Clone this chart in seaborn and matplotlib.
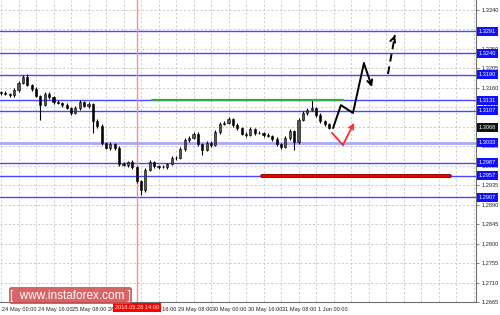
import numpy as np
import pandas as pd
import matplotlib
matplotlib.use("Agg")
import matplotlib.pyplot as plt
import matplotlib.transforms as mtrans
from matplotlib.patches import FancyBboxPatch
import seaborn as sns

# ---------------- data ----------------
first_open = 1.3150
closes = [1.3148, 1.3146, 1.3143, 1.3155, 1.3171, 1.3185, 1.3167, 1.3157, 1.3141, 1.3120,
          1.3146, 1.3139, 1.3127, 1.3125, 1.3120, 1.3113, 1.3102, 1.3113, 1.3127, 1.3118,
          1.3123, 1.3083, 1.3072, 1.3033, 1.3021, 1.3030, 1.3021, 1.2984, 1.2982, 1.2989,
          1.2977, 1.2945, 1.2924, 1.2970, 1.2989, 1.2979, 1.2977, 1.2977, 1.2984, 1.2998,
          1.2998, 1.3019, 1.3039, 1.3044, 1.3053, 1.3030, 1.3016, 1.3033, 1.3028, 1.3058,
          1.3076, 1.3079, 1.3088, 1.3074, 1.3067, 1.3053, 1.3051, 1.3065, 1.3056, 1.3056,
          1.3051, 1.3049, 1.3042, 1.3030, 1.3023, 1.3044, 1.3060, 1.3035, 1.3086, 1.3102,
          1.3109, 1.3113, 1.3097, 1.3083, 1.3076, 1.3068]
wick_up_pips = [3, 4, 3, 5, 4, 5, 6, 3, 4, 3,
                4, 5, 3, 4, 3, 4, 3, 5, 4, 3,
                4, 3, 4, 5, 3, 6, 3, 4, 5, 3,
                4, 3, 3, 4, 5, 3, 3, 4, 3, 5,
                4, 4, 5, 4, 5, 4, 3, 4, 5, 4,
                4, 5, 4, 3, 4, 3, 5, 4, 3, 4,
                3, 4, 3, 4, 3, 5, 4, 3, 4, 5,
                4, 19, 3, 4, 3, 3]
wick_dn_pips = [4, 3, 4, 3, 4, 3, 3, 4, 3, 34,
                3, 4, 5, 3, 4, 3, 4, 3, 4, 3,
                4, 27, 5, 4, 3, 4, 5, 4, 3, 4,
                5, 4, 12, 4, 3, 4, 5, 3, 4, 3,
                4, 3, 4, 5, 3, 4, 11, 3, 4, 3,
                4, 3, 3, 4, 5, 3, 4, 3, 4, 3,
                4, 3, 5, 4, 4, 3, 4, 19, 4, 3,
                4, 3, 4, 5, 4, 3]
candle_hours = 2  # each candle = 2 hours

levels = [1.3291, 1.3240, 1.3190, 1.3131, 1.3107, 1.2987, 1.2957, 1.2907]
light_level = 1.3033
current_price = 1.3068

ytick_values = [1.2665, 1.2710, 1.2755, 1.2800, 1.2845, 1.2890, 1.2935, 1.2980,
                1.3025, 1.3070, 1.3115, 1.3160, 1.3205, 1.3250, 1.3295, 1.3340]
xtick_hours = [0, 16, 32, 48, 64, 80, 96, 112, 128, 144]
xtick_labels = ["24 May 00:00", "24 May 16:00", "25 May 08:00", "28 May 00:00",
                "28 May 16:00", "29 May 08:00", "30 May 00:00", "30 May 16:00",
                "31 May 08:00", "1 Jun 00:00"]

vline_hour = 62
vline_label = "2018.05.28 14:00"

green_seg_h = [69, 156.3]
green_seg_p = 1.3131
red_seg_h = [119.3, 205.3]
red_seg_p = 1.2957

black_path_h = [151.8, 155.4, 160.9, 165.9, 169.6]
black_path_p = [1.3067, 1.3120, 1.3102, 1.3217, 1.3162]
dashed_path_h = [176.9, 180.1]
dashed_path_p = [1.3192, 1.3282]
red_path_h = [151.3, 156.3, 161.4]
red_path_p = [1.3056, 1.3028, 1.3079]

# ---------------- figure ----------------
sns.set_style("white")
plt.rcParams['font.family'] = ['Liberation Sans', 'DejaVu Sans']

W, H = 500, 315
fig = plt.figure(figsize=(W / 100, H / 100), dpi=100)
ax = fig.add_axes([0, 13 / H, 476 / W, 302 / H])

px_per_h = 2.1875
x0 = -1 / px_per_h
x1 = (476 - 1) / px_per_h
ax.set_xlim(x0, x1)
ax.set_ylim(1.2665, 1.33631)

# grid
ax.set_yticks(ytick_values)
ax.set_xticks(xtick_hours)
ax.grid(False)
for yv in ytick_values:
    ax.axhline(yv, color='#c4c4c4', lw=0.6, ls=(0, (2.5, 2.5)), zorder=0)
for xv in np.arange(0, 217, 8):
    ax.axvline(xv, color='#c4c4c4', lw=0.6, ls=(0, (2.5, 2.5)), zorder=0)

# level lines
for lv in levels:
    ax.axhline(lv, color='#4848ff', lw=1.0, zorder=1)
ax.axhline(light_level, color='#a8a8ff', lw=2.0, zorder=1)

# vertical red line
ax.axvline(vline_hour, color='#ff8c8c', lw=1.0, zorder=1)

# candles
df = pd.DataFrame({'close': closes})
df['open'] = [first_open] + closes[:-1]
df['h'] = np.arange(len(df)) * candle_hours
df['high'] = df[['open', 'close']].max(axis=1) + np.array(wick_up_pips) * 1e-4
df['low'] = df[['open', 'close']].min(axis=1) - np.array(wick_dn_pips) * 1e-4
ax.vlines(df['h'], df['low'], df['high'], color='black', lw=0.8, zorder=3)
body_h = (df['close'] - df['open']).abs().clip(lower=0.00008)
body_b = df[['open', 'close']].min(axis=1)
bull = df['close'] >= df['open']
ax.bar(df['h'][bull], body_h[bull], bottom=body_b[bull], width=1.0,
       color='#555555', edgecolor='black', lw=0.4, zorder=4)
ax.bar(df['h'][~bull], body_h[~bull], bottom=body_b[~bull], width=1.0,
       color='black', edgecolor='black', lw=0.4, zorder=4)

# green and red segments
sns.lineplot(x=green_seg_h, y=[green_seg_p] * 2, ax=ax, color='#34a84a', lw=1.6, zorder=5)
sns.lineplot(x=red_seg_h, y=[red_seg_p] * 2, ax=ax, color='#8b0000', lw=2.8, zorder=5)
sns.lineplot(x=red_seg_h, y=[red_seg_p] * 2, ax=ax, color='#ee0000', lw=1.6, zorder=5)

# black forecast path
sns.lineplot(x=black_path_h[:-1], y=black_path_p[:-1], ax=ax, sort=False,
             color='black', lw=1.4, zorder=6)
ax.annotate('', xy=(black_path_h[-1], black_path_p[-1]),
            xytext=(black_path_h[-2], black_path_p[-2]),
            arrowprops=dict(arrowstyle='->', color='black', lw=1.4,
                            mutation_scale=9, shrinkA=0, shrinkB=0), zorder=6)
# dashed
sns.lineplot(x=dashed_path_h, y=dashed_path_p, ax=ax, sort=False,
             color='black', lw=1.4, ls=(0, (4, 2.5)), zorder=6)
ax.annotate('', xy=(dashed_path_h[-1], dashed_path_p[-1]),
            xytext=(dashed_path_h[-1] - 0.6, dashed_path_p[-1] - 0.0009),
            arrowprops=dict(arrowstyle='->', color='black', lw=1.4,
                            mutation_scale=9, shrinkA=0, shrinkB=0), zorder=6)
# red path
sns.lineplot(x=red_path_h[:-1], y=red_path_p[:-1], ax=ax, sort=False,
             color='#ff2a2a', lw=1.3, zorder=6)
ax.annotate('', xy=(red_path_h[-1], red_path_p[-1]),
            xytext=(red_path_h[-2], red_path_p[-2]),
            arrowprops=dict(arrowstyle='->', color='#ff2a2a', lw=1.3,
                            mutation_scale=8, shrinkA=0, shrinkB=0), zorder=6)

# axes styling
for s in ['top', 'left']:
    ax.spines[s].set_visible(False)
for s in ['right', 'bottom']:
    ax.spines[s].set_color('#6e6e6e')
    ax.spines[s].set_linewidth(0.8)
ax.yaxis.tick_right()
ax.set_yticklabels([f"{v:.4f}" for v in ytick_values])
ax.tick_params(axis='y', labelsize=4.1, length=2, width=0.6, pad=2,
               colors='#6e6e6e', labelcolor='#222222', direction='out')
ax.set_xticklabels(xtick_labels, ha='left')
ax.tick_params(axis='x', which='major', labelsize=4.1, length=2, width=0.6, pad=1.8,
               colors='#6e6e6e', labelcolor='#222222', direction='out')
ax.set_xlabel('')
ax.set_ylabel('')
for lbl in ax.get_xticklabels():
    lbl.set_transform(lbl.get_transform() + mtrans.ScaledTranslation(1.5 / 100, 0, fig.dpi_scale_trans))

# right-side level boxes
trans = mtrans.blended_transform_factory(ax.transAxes, ax.transData)
for lv in levels + [light_level]:
    ax.text(1.0065, lv, f"{lv:.4f}", transform=trans, fontsize=4.1, color='white',
            va='center', ha='left', clip_on=False, zorder=10,
            bbox=dict(boxstyle='square,pad=0.35', fc='#1010ff', ec='none'))
ax.text(1.0065, current_price, f"{current_price:.4f}", transform=trans, fontsize=4.1,
        color='white', va='center', ha='left', clip_on=False, zorder=10,
        bbox=dict(boxstyle='square,pad=0.35', fc='#111111', ec='none'))

# red date box on x axis
xpx = 1 + vline_hour * px_per_h
fig.text(xpx / W, 1 - 307.5 / H, vline_label, fontsize=4.1, color='white',
         ha='center', va='center', zorder=10,
         bbox=dict(boxstyle='square,pad=0.35', fc='#ff0000', ec='none'))

# watermark
wm = FancyBboxPatch((9 / W, 11 / H), 123 / W, 17 / H,
                    boxstyle='round,pad=0,rounding_size=0.006',
                    transform=fig.transFigure, fc='#d24a4a', ec='none', alpha=0.85, zorder=20)
fig.patches.append(wm)
fig.text(70 / W, 19.5 / H, "[  www.instaforex.com ]", fontsize=8.5, color='white',
         ha='center', va='center', zorder=21)

fig.savefig("out.png", dpi=100)
